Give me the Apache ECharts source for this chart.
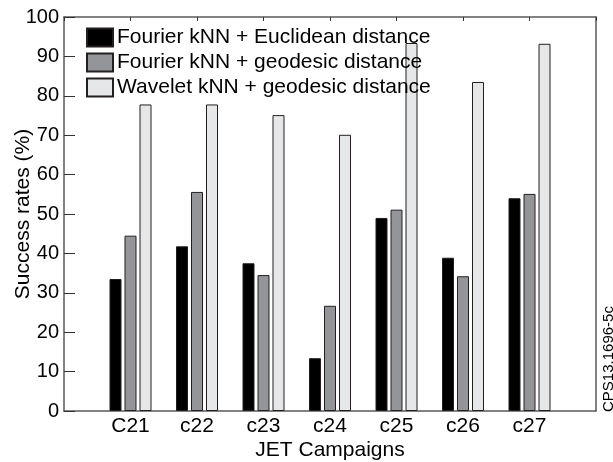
<!DOCTYPE html>
<html>
<head>
<meta charset="utf-8">
<script src="https://cdn.jsdelivr.net/npm/echarts@6/dist/echarts.min.js"></script>
<style>html,body{margin:0;padding:0;background:#fff}#c{width:613px;height:462px}</style>
</head>
<body>
<div id="c"></div>
<script>
var categories = ['', 'C21', 'c22', 'c23', 'c24', 'c25', 'c26', 'c27', ''];
var seriesNames = ['Fourier kNN + Euclidean distance', 'Fourier kNN + geodesic distance', 'Wavelet kNN + geodesic distance'];
var fourierEuclid = [null, 33.5, 41.8, 37.5, 13.4, 49.0, 38.9, 54.0, null];
var fourierGeodesic = [null, 44.5, 55.6, 34.5, 26.7, 51.1, 34.2, 55.1, null];
var waveletGeodesic = [null, 77.8, 77.8, 75.1, 70.1, 93.4, 83.5, 93.2, null];
var yTicks = [0, 10, 20, 30, 40, 50, 60, 70, 80, 90, 100];
var colors = ['#000000', '#939598', '#e6e7e8'];

var font = 'Liberation Sans, Arial, sans-serif';
var axisColor = '#58595b';
var chart = echarts.init(document.getElementById('c'));
var seriesData = [fourierEuclid, fourierGeodesic, waveletGeodesic];
chart.setOption({
  animation: false,
  grid: {left: 64, right: 17, top: 17, bottom: 51, containLabel: false, outerBoundsMode: 'none'},
  legend: {
    orient: 'vertical', left: 86, top: 27, padding: 0, itemWidth: 26, itemHeight: 18, itemGap: 4,
    icon: 'rect', z: 10,
    textStyle: {fontFamily: font, fontSize: 21, color: '#000', padding: [0, 0, 0, -1]},
    data: seriesNames
  },
  xAxis: [{
    type: 'category', data: categories, boundaryGap: false, position: 'bottom',
    axisLine: {onZero: false, lineStyle: {color: axisColor, width: 1.5}},
    axisTick: {show: false},
    axisLabel: {fontFamily: font, fontSize: 21, color: '#000', margin: 5, interval: 0},
    name: 'JET Campaigns', nameLocation: 'middle', nameGap: 29, nameMoveOverlap: false,
    nameTextStyle: {fontFamily: font, fontSize: 21, color: '#000', verticalAlign: 'top'}
  }, {
    type: 'category', data: categories, boundaryGap: false, position: 'top',
    axisLine: {onZero: false, lineStyle: {color: axisColor, width: 1.5}},
    axisTick: {show: true, inside: true, length: 4, interval: 0, lineStyle: {color: '#333'}},
    axisLabel: {show: false}
  }],
  yAxis: [{
    type: 'value', min: yTicks[0], max: yTicks[yTicks.length - 1], interval: 10, position: 'left',
    axisLine: {show: true, onZero: false, lineStyle: {color: axisColor, width: 1.5}},
    axisTick: {show: true, inside: true, length: 11, lineStyle: {color: '#333'}},
    splitLine: {show: false},
    axisLabel: {fontFamily: font, fontSize: 20, color: '#000', margin: 5},
    name: 'Success rates (%)', nameLocation: 'middle', nameGap: 30, nameMoveOverlap: false,
    nameTextStyle: {fontFamily: font, fontSize: 21, color: '#000'}
  }, {
    type: 'value', min: 0, max: 100, interval: 10, position: 'right',
    axisLine: {show: true, onZero: false, lineStyle: {color: axisColor, width: 1.5}},
    axisTick: {show: false}, axisLabel: {show: false}, splitLine: {show: false}
  }],
  series: seriesNames.map(function (n, i) {
    return {
      name: n, type: 'bar', data: seriesData[i], barWidth: 12, barGap: '25%',
      itemStyle: {color: colors[i], borderColor: '#231f20', borderWidth: 1}
    };
  }),
  graphic: [{
    type: 'text', x: 601, y: 412, rotation: Math.PI / 2,
    style: {text: 'CPS13.1696-5c', fontFamily: font, fontSize: 15, fill: '#000', align: 'left', verticalAlign: 'top'}
  }]
});
</script>
</body>
</html>
